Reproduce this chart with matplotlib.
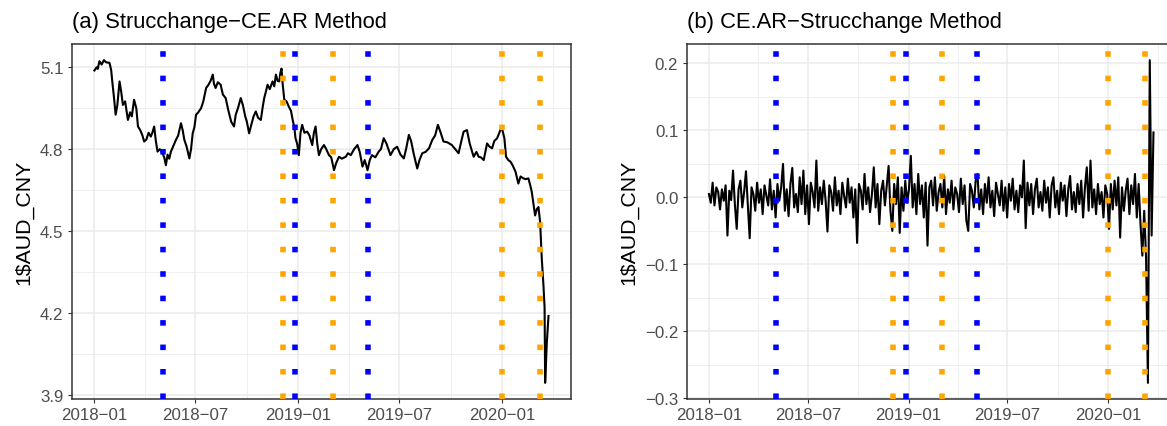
import numpy as np
import pandas as pd
import matplotlib
matplotlib.use("Agg")
import matplotlib.pyplot as plt
import matplotlib.dates as mdates
from matplotlib.ticker import MultipleLocator, FuncFormatter

plt.rcParams['font.family'] = ['Liberation Sans', 'DejaVu Sans']

# --- data ---
start = pd.Timestamp("2018-01-01")

# level series: day offset from start, value
level_days = [0, 4, 6, 9, 13, 17, 21, 27, 30, 32, 35, 38, 41, 45, 48, 51, 55, 60, 64, 67,
              71, 75, 78, 82, 86, 89, 93, 97, 101, 104, 107, 110, 113, 117, 122, 125, 128,
              131, 134, 137, 141, 146, 150, 155, 158, 161, 165, 170, 173, 176, 179, 182,
              186, 191, 195, 200, 204, 208, 212, 214, 217, 221, 226, 230, 235, 240, 245,
              250, 253, 257, 262, 266, 270, 273, 277, 281, 285, 289, 293, 298, 301, 304,
              307, 310, 314, 319, 322, 325, 328, 331, 333, 335, 337, 340, 344, 348, 352,
              355, 358, 360, 363, 366, 369, 372, 376, 381, 385, 390, 393, 396, 399, 402,
              406, 411, 415, 420, 424, 429, 433, 438, 443, 450, 454, 459, 465, 471, 475,
              480, 484, 489, 493, 497, 503, 509, 513, 518, 523, 530, 536, 542, 548, 554,
              558, 563, 567, 572, 578, 582, 587, 593, 599, 605, 610, 615, 620, 625, 632,
              640, 646, 652, 657, 661, 667, 672, 679, 684, 688, 692, 697, 703, 707, 712,
              716, 721, 725, 729, 734, 737, 741, 745, 749, 754, 759, 763, 768, 772, 777,
              780, 783, 786, 789, 792, 795, 798, 801, 804, 806, 807, 810, 813]
level_vals = [5.088, 5.100, 5.094, 5.122, 5.110, 5.126, 5.118, 5.116, 5.090, 5.048, 4.990,
              4.926, 4.960, 5.048, 5.010, 4.962, 4.975, 4.907, 4.935, 4.920, 4.981, 4.950,
              4.883, 4.870, 4.850, 4.828, 4.835, 4.860, 4.846, 4.862, 4.883, 4.830, 4.791,
              4.800, 4.785, 4.770, 4.741, 4.780, 4.765, 4.791, 4.810, 4.834, 4.850, 4.895,
              4.870, 4.834, 4.810, 4.766, 4.800, 4.858, 4.880, 4.926, 4.935, 4.950, 4.975,
              5.024, 5.035, 5.050, 5.073, 5.040, 5.024, 5.045, 5.036, 5.000, 4.987, 4.940,
              4.900, 4.883, 4.926, 4.950, 4.987, 4.960, 4.920, 4.900, 4.858, 4.890, 4.920,
              4.938, 4.915, 4.907, 4.950, 4.987, 5.010, 5.036, 5.020, 5.048, 5.030, 5.073,
              5.050, 5.048, 5.080, 5.095, 5.040, 4.981, 4.975, 4.956, 4.940, 4.907, 4.880,
              4.840, 4.820, 4.778, 4.860, 4.889, 4.860, 4.864, 4.850, 4.815, 4.860, 4.883,
              4.820, 4.778, 4.800, 4.815, 4.800, 4.778, 4.770, 4.723, 4.750, 4.772, 4.765,
              4.772, 4.785, 4.778, 4.800, 4.815, 4.790, 4.736, 4.760, 4.723, 4.760, 4.778,
              4.770, 4.791, 4.800, 4.840, 4.820, 4.778, 4.800, 4.809, 4.780, 4.766, 4.800,
              4.852, 4.830, 4.780, 4.729, 4.760, 4.785, 4.790, 4.803, 4.834, 4.850, 4.889,
              4.860, 4.828, 4.825, 4.815, 4.800, 4.785, 4.830, 4.864, 4.870, 4.820, 4.772,
              4.790, 4.772, 4.770, 4.760, 4.821, 4.810, 4.803, 4.830, 4.840, 4.860, 4.883,
              4.840, 4.772, 4.760, 4.754, 4.740, 4.717, 4.674, 4.700, 4.693, 4.690, 4.693,
              4.670, 4.644, 4.600, 4.557, 4.580, 4.588, 4.533, 4.398, 4.300, 4.220, 3.944,
              4.091, 4.189]

# differenced series (evenly spaced over the same period)
diff_vals = [
    0.005, -0.008, 0.022, -0.012, 0.015, 0.008, -0.018, 0.012, -0.005, 0.018,
    -0.057, 0.010, -0.004, 0.040, -0.010, -0.047, 0.012, 0.025, -0.015, 0.008,
    0.039, -0.010, -0.061, 0.015, 0.005, -0.020, 0.022, -0.008, 0.012, -0.025,
    0.018, 0.003, -0.012, 0.027, -0.018, 0.010, -0.030, 0.020, -0.005, 0.015,
    0.050, -0.020, 0.012, -0.028, 0.020, 0.044, -0.015, 0.005, -0.022, 0.030,
    -0.010, 0.040, -0.025, 0.018, -0.040, 0.022, 0.008, -0.015, 0.055, -0.020,
    0.015, -0.010, 0.025, -0.005, -0.051, 0.018, 0.008, -0.020, 0.030, -0.012,
    0.010, -0.025, 0.022, 0.002, -0.015, 0.028, -0.008, 0.015, -0.030, 0.012,
    -0.068, 0.020, 0.010, -0.018, 0.035, -0.010, 0.015, -0.022, 0.005, 0.045,
    -0.015, 0.020, -0.040, 0.010, 0.025, -0.012, 0.018, 0.047, -0.020, -0.050,
    0.020, -0.010, 0.030, -0.053, 0.015, -0.020, 0.025, -0.008, 0.012, 0.062,
    -0.015, 0.020, -0.025, 0.035, -0.010, 0.018, -0.030, 0.022, -0.072, 0.015,
    0.025, -0.012, 0.030, -0.020, 0.008, 0.020, -0.015, 0.032, -0.025, 0.012,
    -0.008, 0.025, -0.018, 0.015, 0.005, -0.022, 0.028, -0.010, 0.018, -0.035,
    -0.050, 0.020, 0.010, -0.015, 0.025, 0.035, -0.018, 0.012, -0.025, 0.020,
    -0.008, 0.030, -0.015, 0.010, -0.028, 0.022, 0.005, -0.012, 0.025, -0.020,
    0.015, -0.030, 0.020, -0.005, 0.028, -0.018, 0.010, -0.022, 0.018, 0.000,
    0.055, -0.046, 0.022, -0.012, 0.020, -0.025, 0.012, 0.028, -0.015, 0.008,
    -0.020, 0.025, -0.008, 0.015, -0.030, 0.018, 0.030, -0.015, 0.010, -0.025,
    0.022, -0.005, 0.018, -0.028, 0.012, 0.032, -0.018, 0.008, -0.022, 0.020,
    -0.010, 0.025, -0.030, 0.015, 0.045, -0.020, 0.055, -0.015, 0.012, -0.025,
    0.020, -0.010, 0.008, -0.030, 0.018, 0.005, -0.047, 0.020, -0.018, 0.025,
    -0.012, 0.030, -0.060, 0.015, -0.020, 0.010, 0.028, -0.025, 0.018, -0.010,
    0.035, -0.030, 0.020, -0.040, -0.087, -0.020, -0.090, -0.277, 0.205, -0.057,
    0.097]
diff_end = "2020-03-24"

# breakpoints found by each method
blue_breaks = ["2018-05-03", "2018-12-27", "2019-05-06"]
orange_breaks = ["2018-12-04", "2019-03-04", "2020-01-01", "2020-03-09"]

titles = ["(a) Strucchange\u2212CE.AR Method", "(b) CE.AR\u2212Strucchange Method"]
ylab = "1$AUD_CNY"

level_dates = start + pd.to_timedelta(level_days, unit="D")
diff_dates = pd.date_range(start, diff_end, periods=len(diff_vals))

W, H = 1167, 427
fig = plt.figure(figsize=(W / 100, H / 100), dpi=100)
ax1 = fig.add_axes([71.7 / W, 1 - 400 / H, 499.5 / W, 355 / H])
ax2 = fig.add_axes([686.7 / W, 1 - 400 / H, 489 / W, 355 / H])

minus = lambda s: s.replace("-", "\u2212")

def style(ax, major, minor):
    ax.set_facecolor("white")
    ax.grid(True, which="major", color="#EBEBEB", lw=1.1, zorder=0)
    ax.grid(True, which="minor", color="#EBEBEB", lw=0.55, zorder=0)
    ax.set_axisbelow(True)
    for s in ax.spines.values():
        s.set_color("#333333")
        s.set_linewidth(1.1)
    ax.xaxis.set_major_locator(mdates.MonthLocator(bymonth=[1, 7]))
    ax.xaxis.set_minor_locator(mdates.MonthLocator(bymonth=[4, 10]))
    ax.xaxis.set_major_formatter(FuncFormatter(lambda v, p: minus(mdates.num2date(v).strftime("%Y-%m"))))
    ax.yaxis.set_major_locator(MultipleLocator(major))
    ax.yaxis.set_minor_locator(MultipleLocator(minor))
    ax.yaxis.set_major_formatter(FuncFormatter(lambda v, p: minus(f"{round(v, 6) + 0.0:.1f}")))
    ax.tick_params(which="major", length=3, width=0.8, color="#333333",
                   labelsize=12.2, labelcolor="#4D4D4D", pad=3)
    ax.tick_params(which="minor", length=0)
    ax.set_ylabel(ylab, fontsize=15.3, labelpad=5)

def breaks(ax):
    for d in blue_breaks:
        ax.axvline(pd.Timestamp(d), color="blue", lw=4.0, ls=(0, (1, 3.4)), zorder=3)
    for d in orange_breaks:
        ax.axvline(pd.Timestamp(d), color="orange", lw=4.0, ls=(0, (1, 3.4)), zorder=3)

ax1.plot(level_dates, level_vals, color="black", lw=1.5, zorder=2)
breaks(ax1)
ax1.margins(x=0.05, y=0.05)
style(ax1, 0.3, 0.15)
ax1.set_title(titles[0], loc="left", fontsize=15.8, pad=12)

ax2.plot(diff_dates, diff_vals, color="black", lw=1.5, zorder=2)
breaks(ax2)
ax2.margins(x=0.05, y=0.05)
style(ax2, 0.1, 0.05)
ax2.set_title(titles[1], loc="left", fontsize=15.8, pad=12)

fig.savefig("out.png", dpi=100, facecolor="white")
